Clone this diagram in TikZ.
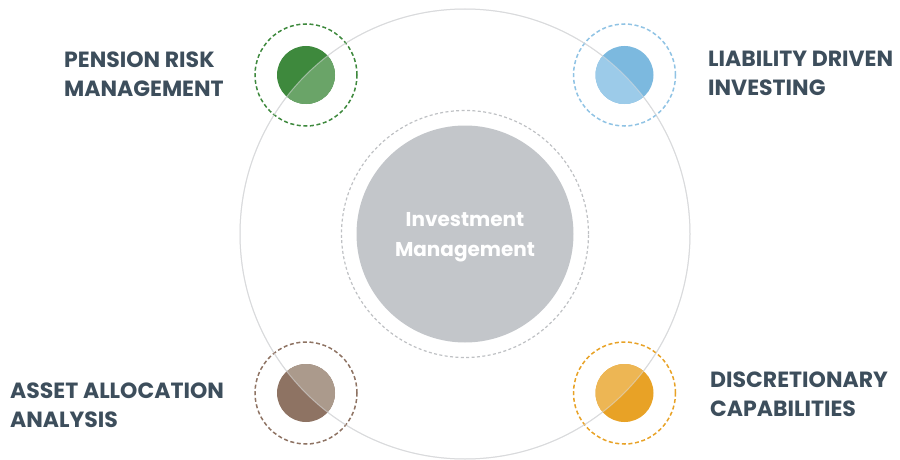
\documentclass[tikz,border=0pt]{standalone}
\usepackage{fontspec}
\setmainfont{Poppins}
\usetikzlibrary{positioning}
\definecolor{cText}{HTML}{3D4E5C}
\definecolor{cRing}{HTML}{D9DADC}
\definecolor{cHub} {HTML}{C3C6CA}
\definecolor{cRim} {HTML}{BFC1C4}
\definecolor{cGrn} {HTML}{3E893D}
\definecolor{cGrnL}{HTML}{6AA468}
\definecolor{cBlu} {HTML}{7CB9DF}
\definecolor{cBluL}{HTML}{9CCBE9}
\definecolor{cBrn} {HTML}{8E7363}
\definecolor{cBrnL}{HTML}{AB9A8C}
\definecolor{cOrg} {HTML}{E8A226}
\definecolor{cOrgL}{HTML}{EDB654}
\tikzset{
  ring/.style ={circle,draw=cRing,line width=1pt,inner sep=0pt,minimum size=450pt},
  halo/.style ={circle,draw=#1,line width=1.5pt,dash pattern=on 4pt off 2.6pt,
                inner sep=0pt,minimum size=102pt},
  dot/.style  ={circle,fill=#1,inner sep=0pt,minimum size=58pt},
  hubrim/.style={circle,draw=cRim,line width=1.2pt,dash pattern=on 3pt off 2.4pt,
                inner sep=0pt,minimum size=247pt},
  hubdisc/.style={circle,fill=cHub,inner sep=0pt,minimum size=217pt},
  hubtext/.style={align=center,text=white,inner sep=0pt,
                font=\bfseries\fontsize{20}{30}\selectfont},
  lbl/.style  ={font=\bfseries\fontsize{22}{29}\selectfont,text=cText,align=left,
                anchor=west,inner sep=0pt},
}

\begin{document}
\begin{tikzpicture}[x=1pt,y=-1pt]
\useasboundingbox (0,0) rectangle (900,460);

% outer ring and hub
\node[ring] (ring) at (465,234) {};
\node[hubrim] (rim) at (465,234) {};
\node[hubdisc] (hub) at (465,234) {};
\node[hubtext] (hubTxt) at (465,237) {Investment\\Management};

% four service dots on the ring
\node[halo=cGrn] (prmHalo) at (306,75) {};
\node[dot=cGrn]  (prm)     at (306,75) {};
\node[halo=cBlu!85] (ldiHalo) at (624.5,75) {};
\node[dot=cBlu]  (ldi)     at (624.5,75) {};
\node[halo=cBrn] (aaaHalo) at (306,393) {};
\node[dot=cBrn]  (aaa)     at (306,393) {};
\node[halo=cOrg] (dcHalo)  at (624.5,393) {};
\node[dot=cOrg]  (dc)      at (624.5,393) {};

% lighter half inside the ring
\begin{scope}
  \clip (ring.center) circle (225pt);
  \fill[cGrnL] (prm.center) circle (29pt);
  \fill[cBluL] (ldi.center) circle (29pt);
  \fill[cBrnL] (aaa.center) circle (29pt);
  \fill[cOrgL] (dc.center)  circle (29pt);
\end{scope}
\draw[cRing,line width=1pt,opacity=0.55] (ring.center) circle (225pt);

% labels
\node[lbl] (prmTxt) at (64,74)  {PENSION RISK\\MANAGEMENT};
\node[lbl] (ldiTxt) at (708,73) {LIABILITY DRIVEN\\INVESTING};
\node[lbl] (aaaTxt) at (10,405.5) {ASSET ALLOCATION\\ANALYSIS};
\node[lbl] (dcTxt)  at (710,394.5) {DISCRETIONARY\\CAPABILITIES};
\end{tikzpicture}
\end{document}
